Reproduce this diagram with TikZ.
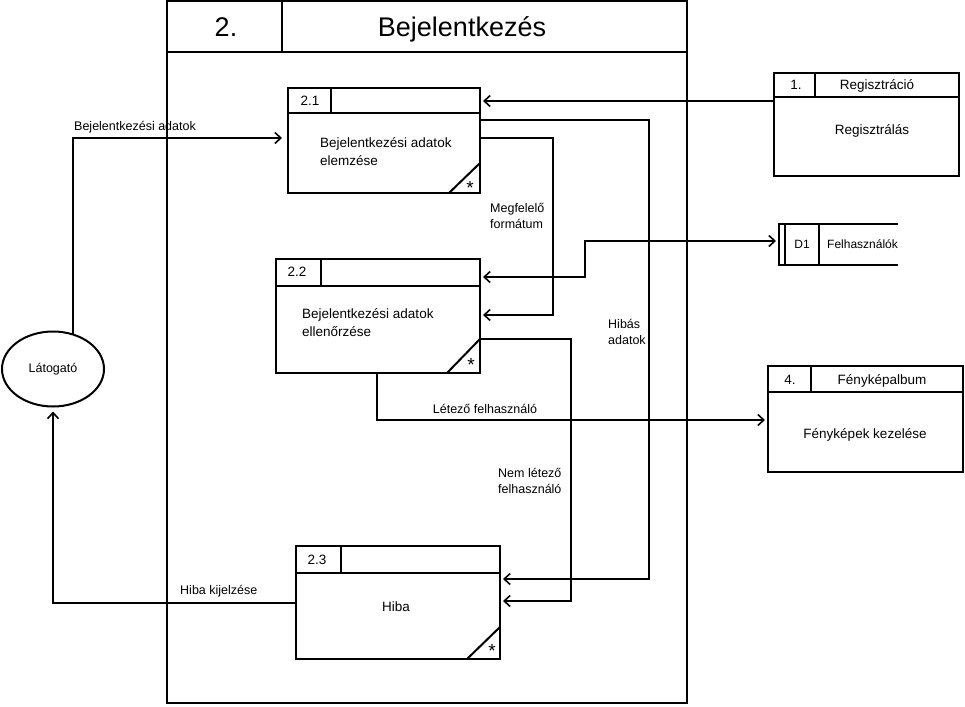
\documentclass[tikz,border=0pt]{standalone}
\usepackage{fontspec}
\setmainfont{Liberation Sans}
\usetikzlibrary{arrows.meta,calc,shapes.geometric}
\begin{document}
\begin{tikzpicture}[x=1pt,y=-1pt,
  ln/.style={line width=2pt},
  box/.style={draw,line width=2pt,inner sep=0pt,outer sep=0pt,anchor=north west},
  arr/.style={line width=2pt,-{Straight Barb[length=6pt,width=11pt,line width=1.6pt]}},
  biarr/.style={line width=2pt,{Straight Barb[length=6pt,width=11pt,line width=1.6pt]}-{Straight Barb[length=6pt,width=11pt,line width=1.6pt]}},
  one/.style={text height=#1,text depth=0pt},
  txt/.style={inner sep=0pt,font=\fontsize{13.5}{18}\selectfont,align=left},
  lbl/.style={inner sep=0pt,font=\fontsize{12.5}{16.5}\selectfont,align=left},
  star/.style={inner sep=0pt,font=\fontsize{19}{19}\selectfont}]
\useasboundingbox (0,0) rectangle (965,706);

% frame
\node[box,minimum width=520pt,minimum height=702pt] (frame) at (167,1) {};
\draw[ln] ($(frame.north west)+(0,51)$) -- ($(frame.north east)+(0,51)$);
\draw[ln] ($(frame.north west)+(115,0)$) -- ($(frame.north west)+(115,51)$);
\node[one=19.4pt,inner sep=0pt,font=\fontsize{27}{27}\selectfont] (tnum) at (226,27) {2.};
\node[one=19.4pt,inner sep=0pt,font=\fontsize{27}{27}\selectfont] (ttl) at (462,27) {Bejelentkezés};

% box 2.1
\node[box,minimum width=192pt,minimum height=105pt] (b21) at (288,88) {};
\draw[ln] ($(b21.north west)+(0,25)$) -- ($(b21.north east)+(0,25)$);
\draw[ln] ($(b21.north west)+(43,0)$) -- ($(b21.north west)+(43,25)$);
\draw[ln] ($(b21.south east)+(-31,0)$) -- ($(b21.south east)+(0,-30)$);
\node[txt,one=9.7pt] (n21) at (310,101) {2.1};
\node[txt,anchor=west] (t21) at (320,152) {Bejelentkezési adatok\\elemzése};
\node[star] (s21) at (470,188) {*};

% box 2.2
\node[box,minimum width=204pt,minimum height=114pt] (b22) at (276,259) {};
\draw[ln] ($(b22.north west)+(0,27)$) -- ($(b22.north east)+(0,27)$);
\draw[ln] ($(b22.north west)+(45,0)$) -- ($(b22.north west)+(45,27)$);
\draw[ln] ($(b22.south east)+(-33,0)$) -- ($(b22.south east)+(0,-34)$);
\node[txt,one=9.7pt] (n22) at (297,272) {2.2};
\node[txt,anchor=west] (t22) at (302,323) {Bejelentkezési adatok\\ellenőrzése};
\node[star] (s22) at (471,365) {*};

% box 2.3
\node[box,minimum width=204pt,minimum height=113pt] (b23) at (296,546) {};
\draw[ln] ($(b23.north west)+(0,27)$) -- ($(b23.north east)+(0,27)$);
\draw[ln] ($(b23.north west)+(45,0)$) -- ($(b23.north west)+(45,27)$);
\draw[ln] ($(b23.south east)+(-33,0)$) -- ($(b23.south east)+(0,-32)$);
\node[txt,one=9.7pt] (n23) at (317,560) {2.3};
\node[txt,one=9.7pt] (t23) at (396,607) {Hiba};
\node[star] (s23) at (492,651) {*};

% Regisztracio
\node[box,minimum width=185pt,minimum height=103pt] (reg) at (774,73) {};
\draw[ln] ($(reg.north west)+(0,24)$) -- ($(reg.north east)+(0,24)$);
\draw[ln] ($(reg.north west)+(41,0)$) -- ($(reg.north west)+(41,24)$);
\node[txt,one=9.7pt] (nreg) at (796,85) {1.};
\node[txt,one=9.7pt] (hreg) at (877,85) {Regisztráció};
\node[txt,one=9.7pt] (treg) at (872,130) {Regisztrálás};

% D1
\node[inner sep=0pt,outer sep=0pt,minimum width=119pt,minimum height=41pt,anchor=north west] (d1) at (779,224) {};
\draw[ln] (d1.north east) -- (d1.north west) -- (d1.south west) -- (d1.south east);
\draw[ln] ($(d1.north west)+(6,0)$) -- ($(d1.south west)+(6,0)$);
\draw[ln] ($(d1.north west)+(40,0)$) -- ($(d1.south west)+(40,0)$);
\node[one=8.6pt,inner sep=0pt,font=\fontsize{12}{12}\selectfont] (nd1) at (802,244) {D1};
\node[one=8.6pt,inner sep=0pt,font=\fontsize{12}{12}\selectfont,anchor=west] (td1) at (827,244) {Felhasználók};

% Fenykepalbum
\node[box,minimum width=195pt,minimum height=106pt] (foto) at (768,366) {};
\draw[ln] ($(foto.north west)+(0,26)$) -- ($(foto.north east)+(0,26)$);
\draw[ln] ($(foto.north west)+(43,0)$) -- ($(foto.north west)+(43,26)$);
\node[txt,one=9.7pt] (nfoto) at (790,380) {4.};
\node[txt,one=9.7pt] (hfoto) at (882,380) {Fényképalbum};
\node[txt,one=9.7pt] (tfoto) at (865,434) {Fényképek kezelése};

% Latogato
\node[draw,ellipse,line width=2pt,minimum width=102pt,minimum height=75pt,inner sep=0pt,font=\fontsize{12.5}{12.5}\selectfont] (lat) at (53,369) {Látogató};

% connectors
\draw[arr] ($(reg.north west)+(0,28)$) -- ($(b21.north east)+(3,13)$);
\draw[arr] ($(b21.north east)+(0,32)$) -| ($(b23.north east)+(149,33)$) -- ($(b23.north east)+(3,33)$);
\draw[arr] ($(b21.north east)+(0,50)$) -| ($(b22.north east)+(73,56)$) -- ($(b22.north east)+(3,56)$);
\draw[biarr] ($(b22.north east)+(3,18)$) -| ($(d1.west)+(-194,-3.5)$) -- ($(d1.west)+(-3,-3.5)$);
\draw[arr] ($(b22.north east)+(0,80)$) -| ($(b23.north east)+(71,55)$) -- ($(b23.north east)+(3,55)$);
\draw[arr] ($(b22.south west)+(101,0)$) |- ($(foto.north west)+(-3,54)$);
\draw[arr] ($(lat.north)+(20,3)$) |- ($(b21.north west)+(-6,50)$);
\draw[arr] ($(b23.north west)+(0,57)$) -| ($(lat.south)+(0,4)$);

% connector labels
\node[lbl,anchor=west] (l1) at (74,127) {Bejelentkezési adatok};
\node[lbl,anchor=west] (l2) at (180,591) {Hiba kijelzése};
\node[lbl,anchor=west] (l3) at (490,216) {Megfelelő\\formátum};
\node[lbl,anchor=west] (l4) at (608,332) {Hibás\\adatok};
\node[lbl,one=9pt] (l5) at (485,409) {Létező felhasználó};
\node[lbl,anchor=west] (l6) at (498,481) {Nem létező\\felhasználó};
\end{tikzpicture}
\end{document}
